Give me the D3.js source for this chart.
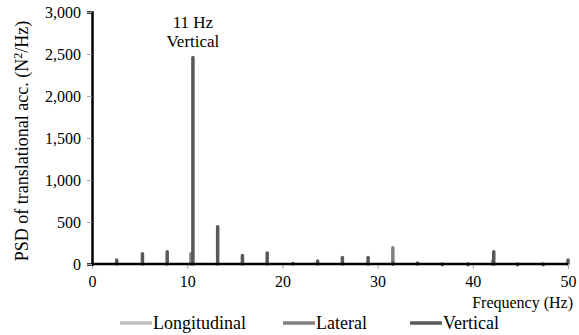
<!DOCTYPE html>
<html>
<head>
<meta charset="utf-8">
<script src="https://cdn.jsdelivr.net/npm/d3@7"></script>
<style>
  body { margin: 0; background: #fff; }
  svg { display: block; }
</style>
</head>
<body>
<div id="chart"></div>
<script>
// series names and colours
const seriesNames = ["Longitudinal", "Lateral", "Vertical"];
const seriesColors = ["#bfbfbf", "#808080", "#595959"];

// peak frequencies (Hz) and PSD values (N²/Hz)
const longFreq = [31.6, 42.1];
const longPsd = [60, 40];
const latFreq = [10.4, 31.6, 42.1];
const latPsd = [140, 210, 60];
const vertFreq = [2.6, 5.3, 7.9, 10.6, 13.2, 15.8, 18.4, 21.1, 23.7, 26.3, 29.0, 31.6, 34.2, 36.8, 39.5, 42.2, 44.7, 47.4, 50.0];
const vertPsd = [65, 140, 165, 2475, 460, 120, 150, 25, 55, 95, 95, 30, 30, 8, 8, 165, 8, 8, 65];

// tick labels
const xTicks = [0, 10, 20, 30, 40, 50];
const yTicks = [0, 500, 1000, 1500, 2000, 2500, 3000];

const FONT = '"Liberation Serif", "Times New Roman", serif';

const width = 579;
const height = 335;
const marginTop = 12;
const marginRight = 11;
const marginBottom = 71;
const marginLeft = 92;

const series = [
    { name: seriesNames[0], color: seriesColors[0], freq: longFreq, psd: longPsd },
    { name: seriesNames[1], color: seriesColors[1], freq: latFreq, psd: latPsd },
    { name: seriesNames[2], color: seriesColors[2], freq: vertFreq, psd: vertPsd }
];

const svg = d3.select("#chart")
    .append("svg")
    .attr("width", width)
    .attr("height", height);

const x = d3.scaleLinear()
    .domain([0, 50])
    .range([marginLeft, width - marginRight]);

const y = d3.scaleLinear()
    .domain([0, 3000])
    .range([height - marginBottom, marginTop]);

// PEAKS
series.forEach(s => {
    svg.append("g")
        .selectAll("line")
        .data(s.freq.map((f, i) => ({ f: f, v: s.psd[i] })))
        .join("line")
        .attr("x1", d => x(d.f))
        .attr("x2", d => x(d.f))
        .attr("y1", y(0))
        .attr("y2", d => y(d.v) + 1.5)
        .attr("stroke", s.color)
        .attr("stroke-width", 3.5)
        .attr("stroke-linecap", "round");
});

// X AXIS
svg.append("g")
    .attr("transform", `translate(0, ${y(0)})`)
    .call(d3.axisBottom(x).tickValues(xTicks).tickSize(5).tickPadding(7))
    .call(g => g.select(".domain").remove())
    .call(g => g.selectAll("line").attr("stroke", "#a6a6a6"))
    .selectAll("text")
    .attr("fill", "#000")
    .style("font-family", FONT)
    .style("font-size", "16px");

svg.append("line")
    .attr("x1", marginLeft)
    .attr("x2", width - marginRight)
    .attr("y1", y(0))
    .attr("y2", y(0))
    .attr("stroke", "#000")
    .attr("stroke-width", 2.5);

// Y AXIS
svg.append("g")
    .attr("transform", `translate(${marginLeft}, 0)`)
    .call(d3.axisLeft(y).tickValues(yTicks).tickSize(5).tickPadding(6).tickFormat(d3.format(",")))
    .call(g => g.select(".domain").attr("stroke", "#000").attr("stroke-width", 2.5))
    .call(g => g.selectAll("line").attr("stroke", "#a6a6a6"))
    .selectAll("text")
    .attr("fill", "#000")
    .style("font-family", FONT)
    .style("font-size", "16px");

// AXIS TITLES
svg.append("text")
    .attr("transform", `translate(22, 141) rotate(-90)`)
    .attr("text-anchor", "middle")
    .attr("dy", "0.35em")
    .style("font-family", FONT)
    .style("font-size", "18px")
    .html("PSD of translational acc. (N<tspan dy='-6' font-size='12px'>2</tspan><tspan dy='6'>/Hz)</tspan>");

svg.append("text")
    .attr("x", 573)
    .attr("y", 308)
    .attr("text-anchor", "end")
    .style("font-family", FONT)
    .style("font-size", "16px")
    .text("Frequency (Hz)");

// ANNOTATION
svg.append("text")
    .attr("x", x(10.6))
    .attr("y", 28)
    .attr("text-anchor", "middle")
    .style("font-family", FONT)
    .style("font-size", "17px")
    .text("11 Hz");

svg.append("text")
    .attr("x", x(10.6))
    .attr("y", 47)
    .attr("text-anchor", "middle")
    .style("font-family", FONT)
    .style("font-size", "17px")
    .text("Vertical");

// LEGEND
const legendX = [120, 283, 410];
const legend = svg.append("g")
    .selectAll("g")
    .data(series)
    .join("g")
    .attr("transform", (d, i) => `translate(${legendX[i]}, 323)`);

legend.append("line")
    .attr("x1", 0)
    .attr("x2", 32)
    .attr("stroke", d => d.color)
    .attr("stroke-width", 3.5);

legend.append("text")
    .attr("x", 33)
    .attr("dy", "0.35em")
    .style("font-family", FONT)
    .style("font-size", "18px")
    .text(d => d.name);
</script>
</body>
</html>
